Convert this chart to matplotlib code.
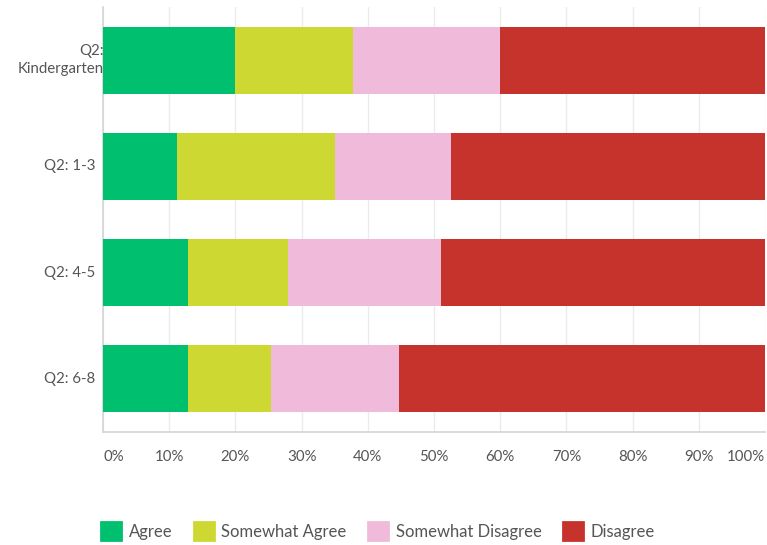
import matplotlib
matplotlib.use("Agg")
import matplotlib.pyplot as plt
from matplotlib.patches import Patch
import numpy as np

# survey results, percent of responses per grade band
categories = ["Q2:\nKindergarten", "Q2: 1-3", "Q2: 4-5", "Q2: 6-8"]
responses = ["Agree", "Somewhat Agree", "Somewhat Disagree", "Disagree"]
agree = [20.0, 11.2, 12.8, 12.8]
somewhat_agree = [17.7, 23.9, 15.2, 12.6]
somewhat_disagree = [22.3, 17.5, 23.1, 19.3]
disagree = [40.0, 47.4, 48.9, 55.4]
tick_vals = list(range(0, 101, 10))
tick_labels = [f"{v}%" for v in tick_vals]

colors = ["#00BF6F", "#CDD932", "#F0BADB", "#C5332C"]
text_col = "#555555"

plt.rcParams["font.family"] = ["Lato", "DejaVu Sans"]

fig = plt.figure(figsize=(7.67, 5.45), dpi=100)
W, H = 767, 545
ax = fig.add_axes([103 / W, 113 / H, 662 / W, 425 / H])

y = np.arange(len(categories))
left = np.zeros(len(categories))
for vals, col, name in zip([agree, somewhat_agree, somewhat_disagree, disagree], colors, responses):
    ax.barh(y, vals, left=left, height=0.63, color=col, label=name, zorder=3)
    left += np.array(vals)

ax.set_xlim(0, 100)
ax.set_ylim(len(categories) - 0.5, -0.5)

ax.set_xticks(tick_vals)
ax.set_xticklabels(tick_labels)
ax.tick_params(axis="x", length=0, pad=13, labelsize=10.8, labelcolor=text_col)
xl = ax.get_xticklabels()
xl[0].set_ha("left")
xl[-1].set_ha("right")

ax.set_yticks([])
for i, lab in enumerate(categories):
    if "\n" in lab:
        ax.annotate(lab, xy=(0, i), xycoords=("axes fraction", "data"),
                    xytext=(1, 0), textcoords="offset pixels", ha="right",
                    va="center", multialignment="right", fontsize=10.8,
                    color=text_col, linespacing=1.35)
    else:
        ax.annotate(lab, xy=(0, i), xycoords=("axes fraction", "data"),
                    xytext=(-59, 0), textcoords="offset pixels", ha="left",
                    va="center", fontsize=10.8, color=text_col)

ax.grid(axis="x", color="#ebebeb", linewidth=1, zorder=0)
for s in ["top", "right"]:
    ax.spines[s].set_visible(False)
for s in ["left", "bottom"]:
    ax.spines[s].set_color("#d4d4d4")
    ax.spines[s].set_linewidth(1.2)

handles = [Patch(facecolor=c, edgecolor=c, linewidth=2, joinstyle="round") for c in colors]
fig.legend(handles, responses, loc="center left", bbox_to_anchor=(101 / W, 14 / H),
           ncol=4, frameon=False, fontsize=12, labelcolor=text_col,
           handlelength=1.2, handleheight=1.2, handletextpad=0.45,
           columnspacing=1.3, borderpad=0, borderaxespad=0)

fig.savefig("out.png", dpi=100)
